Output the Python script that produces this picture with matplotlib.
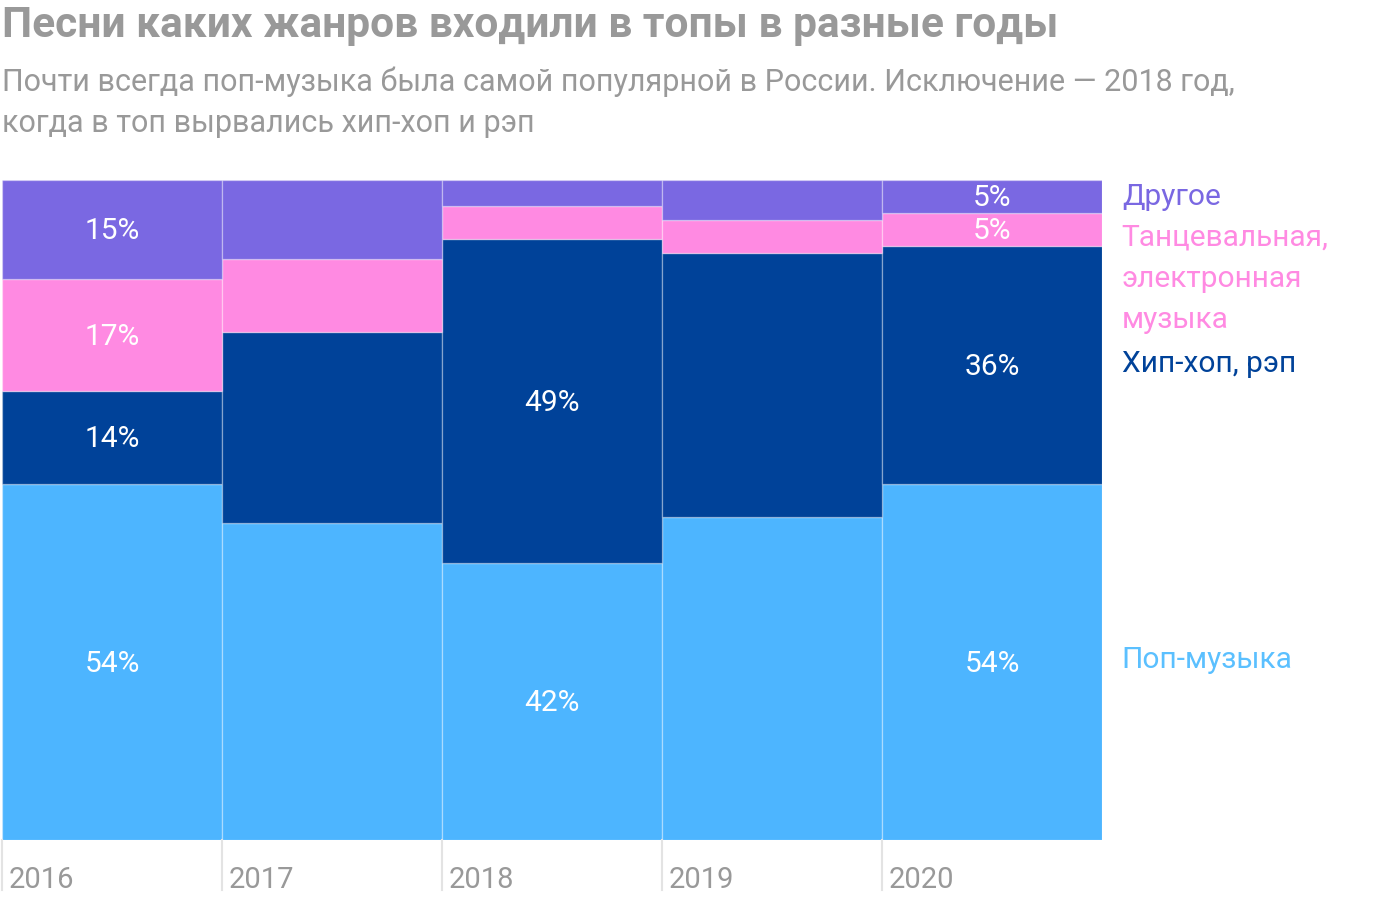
import matplotlib.pyplot as plt
import numpy as np

plt.rcParams['font.family'] = ['Roboto', 'DejaVu Sans']

years = ['2016', '2017', '2018', '2019', '2020']
pop = [54, 48, 42, 49, 54]
hiphop = [14, 29, 49, 40, 36]
dance = [17, 11, 5, 5, 5]
other = [15, 12, 4, 6, 5]

# which labels get shown (year index -> series shown)
show = {0: ['pop', 'hiphop', 'dance', 'other'], 2: ['pop', 'hiphop'], 4: ['pop', 'hiphop', 'dance', 'other']}

colors = {'pop': '#4db5ff', 'hiphop': '#004299', 'dance': '#ff8ae2', 'other': '#7a68e2'}
names = {'pop': 'Поп-музыка', 'hiphop': 'Хип-хоп, рэп',
         'dance': 'Танцевальная,\nэлектронная\nмузыка', 'other': 'Другое'}
series = {'pop': pop, 'hiphop': hiphop, 'dance': dance, 'other': other}

fig = plt.figure(figsize=(14, 9), dpi=100)
ax = fig.add_axes([2/1400, 60/900, 1100/1400, 660/900])

x = np.arange(len(years))
bottom = np.zeros(len(years))
for key in ['pop', 'hiphop', 'dance', 'other']:
    vals = np.array(series[key])
    ax.bar(x, vals, width=1.0, bottom=bottom, align='edge', color=colors[key],
           edgecolor=(1, 1, 1, 0.3), linewidth=1)
    for i in range(len(years)):
        if key in show.get(i, []):
            ax.text(i + 0.5, bottom[i] + vals[i] / 2 - 0.3, f'{vals[i]}%', ha='center', va='center',
                    color='white', fontsize=21.5)
    bottom += vals

ax.set_xlim(0, 5)
ax.set_ylim(0, 100)
ax.axis('off')

# year ticks below
for i, y in enumerate(years):
    ax.plot([i, i], [0, -7.6], color='#e3e3e3', lw=1.5, clip_on=False)
    ax.text(i + 0.03, -6, y, ha='left', va='center', color='#999999', fontsize=21)

# right side labels
label_y = {'pop': 27.3, 'hiphop': 72.1, 'dance': 93.4, 'other': 97.4}
for key in ['pop', 'hiphop', 'dance', 'other']:
    va = 'top' if key == 'dance' else 'center'
    ax.text(5.09, label_y[key], names[key], ha='left', va=va, color=colors[key] if key != 'pop' else '#5bc0ff',
            fontsize=21.5, linespacing=1.6, clip_on=False)

fig.text(2/1400, 1 - 25/900, 'Песни каких жанров входили в топы в разные годы', fontsize=30.6,
         fontweight='bold', color='#999999', ha='left', va='center')
fig.text(2/1400, 1 - 102/900, 'Почти всегда поп-музыка была самой популярной в России. Исключение — 2018 год,\nкогда в топ вырвались хип-хоп и рэп',
         fontsize=22, color='#999999', ha='left', va='center', linespacing=1.5)

fig.savefig('out.png', dpi=100, facecolor='white')
